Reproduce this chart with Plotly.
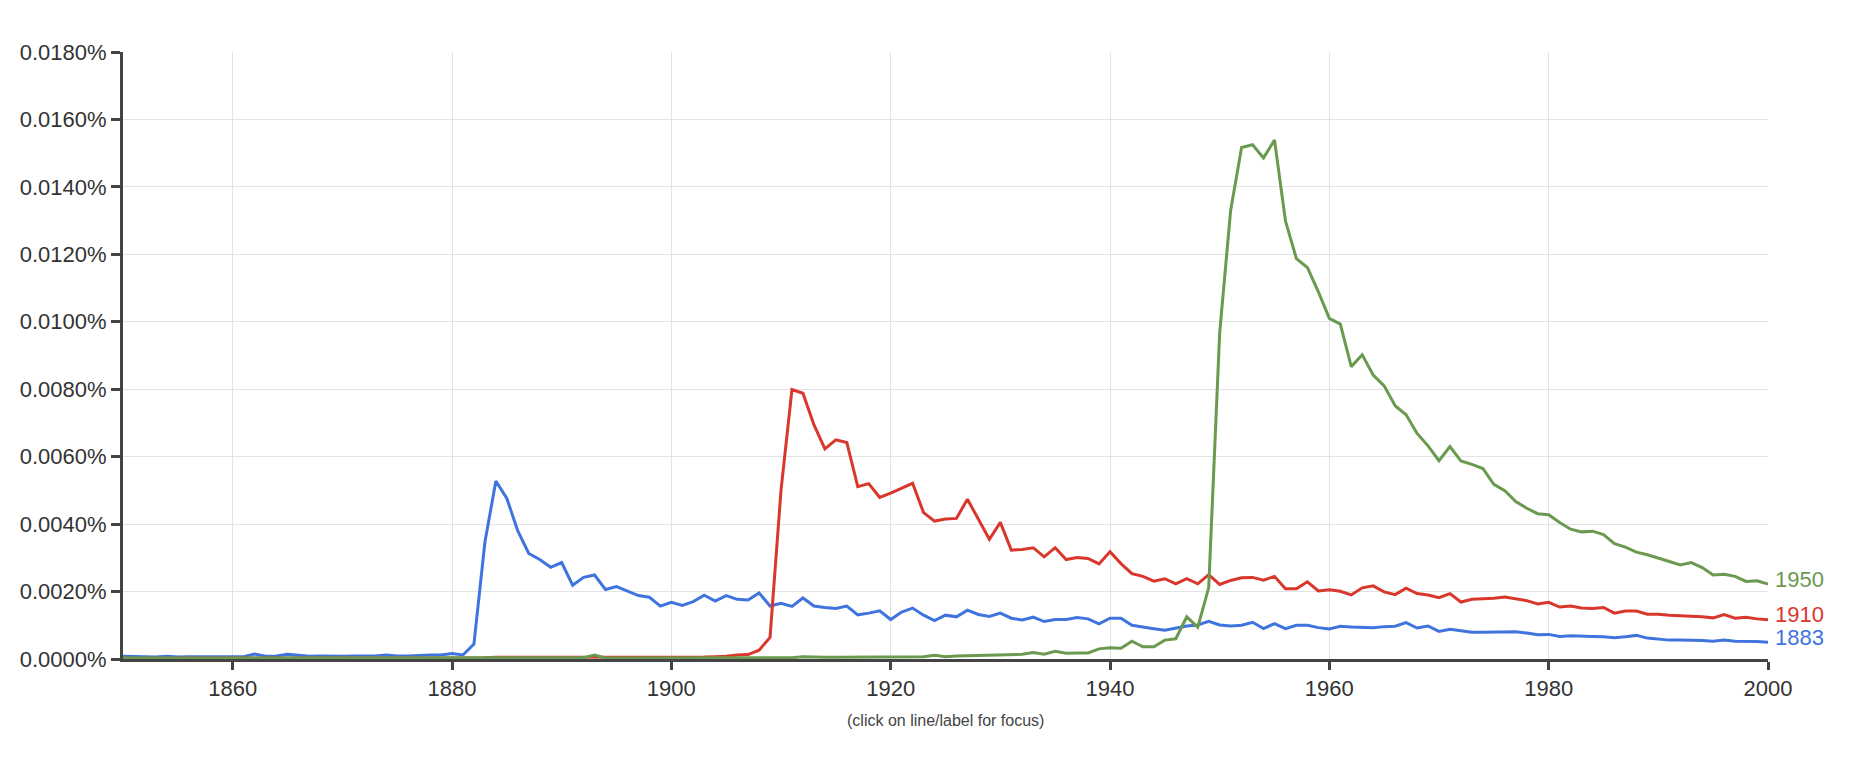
import plotly.graph_objects as go

years = list(range(1850, 2001))

series_names = ["1883", "1910", "1950"]
series_colors = ["#3f74df", "#d9372c", "#6a9a4f"]

vals_1883 = [
    0.00008, 0.00007, 0.00006, 0.00006, 0.00008, 0.00006, 0.00007, 0.00007, 0.00006, 0.00006,
    0.00006, 0.00007, 0.00015, 0.00008, 0.00009, 0.00014, 0.00011, 0.00008, 0.00009, 0.00008,
    0.00008, 0.00009, 0.00008, 0.00009, 0.00012, 0.00009, 0.00009, 0.00011, 0.00012, 0.00012,
    0.00016, 0.00012, 0.00044,
    0.00346, 0.00528, 0.00476, 0.00380, 0.00313, 0.00295, 0.00272, 0.00286, 0.00219, 0.00242,
    0.00249, 0.00206, 0.00215, 0.00202, 0.00188, 0.00183, 0.00157, 0.00168, 0.00159, 0.00170,
    0.00189, 0.00172, 0.00188, 0.00177, 0.00175, 0.00196, 0.00157, 0.00165,
    0.00156, 0.00181, 0.00157, 0.00153, 0.00150, 0.00157, 0.00131, 0.00136, 0.00143, 0.00117,
    0.00139, 0.00151, 0.00130, 0.00114, 0.00130, 0.00125, 0.00145, 0.00132, 0.00126, 0.00136,
    0.00121, 0.00116, 0.00124, 0.00111, 0.00117, 0.00117, 0.00123, 0.00119, 0.00104, 0.00121,
    0.00121, 0.00100, 0.00094, 0.00090, 0.00085, 0.00092, 0.00098, 0.00101, 0.00112, 0.00101,
    0.00098, 0.00100, 0.00109, 0.00090, 0.00105, 0.00090, 0.00100, 0.00100, 0.00093, 0.00089,
    0.00097, 0.00095, 0.00095, 0.00093, 0.00096, 0.00097, 0.00108, 0.00092, 0.00098, 0.00082,
    0.00088, 0.00083, 0.00079, 0.00079, 0.00080, 0.00080, 0.00081, 0.00077, 0.00072, 0.00073,
    0.00067, 0.00069, 0.00067, 0.00067, 0.00066, 0.00063, 0.00066, 0.00070, 0.00062, 0.00059,
    0.00056, 0.00056, 0.00056, 0.00055, 0.00053, 0.00056, 0.00053, 0.00053, 0.00052, 0.00050,
]

vals_1910 = [
    0.00002, 0.00002, 0.00003, 0.00002, 0.00002, 0.00003, 0.00002, 0.00002, 0.00002, 0.00003,
    0.00002, 0.00003, 0.00004, 0.00003, 0.00002, 0.00003, 0.00002, 0.00002, 0.00003, 0.00002,
    0.00002, 0.00003, 0.00002, 0.00003, 0.00003, 0.00002, 0.00003, 0.00003, 0.00002, 0.00003,
    0.00003, 0.00003, 0.00004, 0.00004, 0.00005, 0.00005, 0.00005, 0.00004, 0.00005, 0.00005,
    0.00004, 0.00005, 0.00004, 0.00005, 0.00004, 0.00004, 0.00005, 0.00005, 0.00005, 0.00004,
    0.00005, 0.00005, 0.00006, 0.00006, 0.00007, 0.00008, 0.00012, 0.00013, 0.00026, 0.00064,
    0.00500, 0.00799, 0.00788, 0.00695, 0.00623, 0.00650, 0.00642, 0.00511, 0.00520, 0.00479,
    0.00492, 0.00507, 0.00521, 0.00434, 0.00409, 0.00415, 0.00417, 0.00474, 0.00414, 0.00355,
    0.00405, 0.00323, 0.00325, 0.00330, 0.00303, 0.00330, 0.00295, 0.00301, 0.00298, 0.00282,
    0.00318,
    0.00283, 0.00253, 0.00245, 0.00231, 0.00238, 0.00223, 0.00238, 0.00223, 0.00250, 0.00221,
    0.00233, 0.00241, 0.00242, 0.00234, 0.00245, 0.00208, 0.00208, 0.00229, 0.00202, 0.00205,
    0.00201, 0.00190, 0.00211, 0.00217, 0.00199, 0.00191, 0.00210, 0.00194, 0.00190, 0.00182,
    0.00194, 0.00169, 0.00177, 0.00179, 0.00180, 0.00184, 0.00178, 0.00173, 0.00163, 0.00168,
    0.00154, 0.00157, 0.00151, 0.00150, 0.00153, 0.00136, 0.00142, 0.00142, 0.00133, 0.00133,
    0.00130, 0.00129, 0.00128, 0.00125, 0.00122, 0.00132, 0.00121, 0.00124, 0.00119, 0.00116,
]

vals_1950 = [
    0.00003, 0.00003, 0.00004, 0.00005, 0.00004, 0.00003, 0.00003, 0.00003, 0.00003, 0.00003,
    0.00003, 0.00003, 0.00004, 0.00003, 0.00003, 0.00003, 0.00003, 0.00003, 0.00003, 0.00003,
    0.00003, 0.00003, 0.00003, 0.00003, 0.00003, 0.00004, 0.00004, 0.00003, 0.00003, 0.00003,
    0.00003, 0.00003, 0.00003, 0.00003, 0.00003, 0.00003, 0.00003, 0.00003, 0.00003, 0.00003,
    0.00003, 0.00003, 0.00004, 0.00012, 0.00003, 0.00003, 0.00003, 0.00003, 0.00003, 0.00004,
    0.00004, 0.00003, 0.00004, 0.00004, 0.00004, 0.00004, 0.00004, 0.00004, 0.00004, 0.00004,
    0.00004,
    0.00004, 0.00007, 0.00005, 0.00005, 0.00005, 0.00005, 0.00005, 0.00005, 0.00005, 0.00005,
    0.00005, 0.00006, 0.00007, 0.00011, 0.00007, 0.00009, 0.00010, 0.00011, 0.00012, 0.00013,
    0.00013, 0.00014, 0.00019, 0.00014, 0.00023, 0.00017, 0.00018, 0.00018, 0.00030, 0.00033,
    0.00032, 0.00053, 0.00036, 0.00036, 0.00056, 0.00060, 0.00125, 0.00094, 0.00211, 0.00967,
    0.01330, 0.01517, 0.01525, 0.01486, 0.01539, 0.01299, 0.01187, 0.01161, 0.01089, 0.01010,
    0.00993, 0.00867, 0.00902, 0.00842, 0.00810, 0.00751, 0.00724, 0.00669, 0.00632, 0.00588,
    0.00630, 0.00587, 0.00577, 0.00565, 0.00518, 0.00499, 0.00467, 0.00447,
    0.00431, 0.00428, 0.00405, 0.00385, 0.00377, 0.00379, 0.00369, 0.00342, 0.00332, 0.00317,
    0.00309, 0.00300, 0.00289, 0.00279, 0.00286, 0.00271, 0.00249, 0.00251, 0.00245, 0.00230,
    0.00232, 0.00222,
]

x_tick_vals = [1860, 1880, 1900, 1920, 1940, 1960, 1980, 2000]
y_tick_vals = [0.0, 0.002, 0.004, 0.006, 0.008, 0.010, 0.012, 0.014, 0.016, 0.018]
y_tick_text = ["%.4f%%" % v for v in y_tick_vals]

all_vals = [vals_1883, vals_1910, vals_1950]

FONT = "Liberation Sans, Arial, sans-serif"

fig = go.Figure()
for name, color, vals in zip(series_names, series_colors, all_vals):
    fig.add_trace(go.Scatter(
        x=years, y=vals, mode="lines", name=name,
        line=dict(color=color, width=3),
        hoverinfo="skip",
    ))

annotations = []
for name, color, vals in zip(series_names, series_colors, all_vals):
    annotations.append(dict(
        x=years[-1], y=vals[-1], xref="x", yref="y",
        text=name, showarrow=False, xanchor="left", yanchor="middle",
        xshift=5, yshift=5,
        font=dict(family=FONT, size=22, color=color),
    ))
annotations.append(dict(
    x=0.5, y=-0.1005, xref="paper", yref="paper",
    text="(click on line/label for focus)", showarrow=False,
    xanchor="center", yanchor="middle",
    font=dict(family=FONT, size=16, color="#444444"),
))

fig.update_layout(
    width=1856, height=757, autosize=False,
    margin=dict(l=115, r=96, t=44, b=106),
    paper_bgcolor="white", plot_bgcolor="white",
    showlegend=False,
    font=dict(family=FONT, color="#333333"),
    annotations=annotations,
    xaxis=dict(
        range=[1850, 2000], tickmode="array", tickvals=x_tick_vals,
        showgrid=True, gridcolor="#e3e3e3", gridwidth=1,
        showline=True, linecolor="#444444", linewidth=3,
        ticks="outside", ticklen=8, tickwidth=3, tickcolor="#444444",
        tickfont=dict(family=FONT, size=22, color="#333333"),
        zeroline=False,
    ),
    yaxis=dict(
        range=[0, 0.018], tickmode="array", tickvals=y_tick_vals,
        ticktext=y_tick_text,
        showgrid=True, gridcolor="#e3e3e3", gridwidth=1,
        showline=True, linecolor="#444444", linewidth=3,
        ticks="outside", ticklen=9, tickwidth=3, tickcolor="#444444",
        tickfont=dict(family=FONT, size=22, color="#333333"),
        zeroline=False,
    ),
)

fig.write_html("out.html")
